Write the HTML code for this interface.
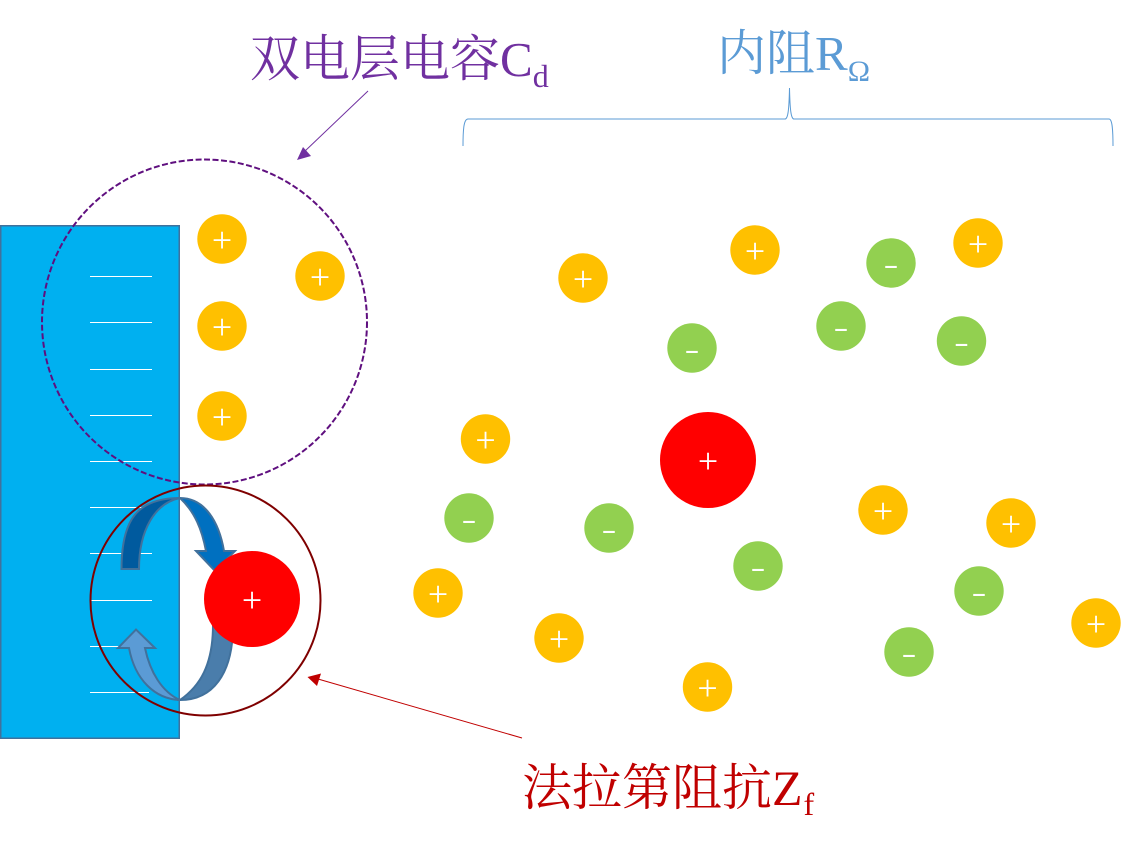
<!DOCTYPE html>
<html><head><meta charset="utf-8"><style>
html,body{margin:0;padding:0;background:#fff}
svg{display:block}
.t{font-family:"Liberation Serif","Noto Serif CJK SC",serif;font-size:50px}
.s{font-size:32px}
.p{font-family:"Liberation Serif",serif;font-size:36px;fill:#fff;text-anchor:middle}
.m{font-family:"Liberation Serif",serif;font-size:34px;fill:#fff;text-anchor:middle}
</style></head><body>
<svg width="1132" height="846" viewBox="0 0 1132 846" xmlns="http://www.w3.org/2000/svg">
<rect x="0.750" y="225.750" width="178.500" height="512.500" fill="#00B0F0" stroke="#41719C" stroke-width="1.500"/>
<g stroke="#fff" stroke-width="1">
<line x1="90" x2="152" y1="276.5" y2="276.5"/><line x1="90" x2="152" y1="322.5" y2="322.5"/><line x1="90" x2="152" y1="369.5" y2="369.5"/><line x1="90" x2="152" y1="415.5" y2="415.5"/><line x1="90" x2="152" y1="461.5" y2="461.5"/><line x1="90" x2="152" y1="507.5" y2="507.5"/><line x1="90" x2="152" y1="553.5" y2="553.5"/><line x1="90" x2="152" y1="600.5" y2="600.5"/><line x1="90" x2="152" y1="646.5" y2="646.5"/><line x1="90" x2="149" y1="692.5" y2="692.5"/>
</g>
<!-- arrows -->
<g stroke="#41719C" stroke-width="2" stroke-linejoin="miter">
<path d="M121.500 569 C121.500 520 137 498 180 498 C155 503 139 530 139 569Z" fill="#005A9E"/>
<path d="M180 498 C205 498 219 522 224 551 L235 551 L215 571 L196 551 L206 551 C202 530 195 512 180 498Z" fill="#0070C0"/>
<path d="M180 700 C212 700 233 675 233 625 L213 625 C213 665 200 686 180 700Z" fill="#4A7DAB"/>
<path d="M180 700 C155 699 135 680 129 648 L118 648 L136 629.500 L155 648 L145 648 C150 672 162 692 180 700Z" fill="#5B9BD5"/>
</g>
<circle cx="204.500" cy="322" r="162.500" fill="none" stroke="#5F0F7F" stroke-width="2" stroke-dasharray="6 2.500"/>
<circle cx="205.500" cy="600.500" r="115" fill="none" stroke="#7F0000" stroke-width="2"/>
<!-- big ions -->
<g fill="#FF0000"><circle cx="252" cy="599" r="48"/><circle cx="708" cy="460" r="48"/></g>
<g fill="#FFC000">
<circle cx="222" cy="239" r="24.700"/><circle cx="320" cy="276" r="24.700"/><circle cx="222" cy="326" r="24.700"/><circle cx="222" cy="416" r="24.700"/><circle cx="583" cy="278" r="24.700"/><circle cx="755" cy="250" r="24.700"/><circle cx="978" cy="243" r="24.700"/><circle cx="485.500" cy="439" r="24.700"/><circle cx="883" cy="510" r="24.700"/><circle cx="1011" cy="523" r="24.700"/><circle cx="438" cy="593" r="24.700"/><circle cx="559" cy="638" r="24.700"/><circle cx="707.500" cy="687" r="24.700"/><circle cx="1096" cy="623" r="24.700"/>
</g>
<g fill="#92D050">
<circle cx="891" cy="263" r="24.700"/><circle cx="841" cy="326" r="24.700"/><circle cx="961.500" cy="341" r="24.700"/><circle cx="692" cy="348" r="24.700"/><circle cx="469" cy="518" r="24.700"/><circle cx="609" cy="528" r="24.700"/><circle cx="758" cy="566" r="24.700"/><circle cx="979" cy="591" r="24.700"/><circle cx="909" cy="652" r="24.700"/>
</g>
<g>
<text class="p" x="252" y="612">+</text><text class="p" x="708" y="473">+</text>
<text class="p" x="222" y="252">+</text><text class="p" x="320" y="289">+</text><text class="p" x="222" y="339">+</text><text class="p" x="222" y="429">+</text><text class="p" x="583" y="291">+</text><text class="p" x="755" y="263">+</text><text class="p" x="978" y="256">+</text><text class="p" x="485.500" y="452">+</text><text class="p" x="883" y="523">+</text><text class="p" x="1011" y="536">+</text><text class="p" x="438" y="606">+</text><text class="p" x="559" y="651">+</text><text class="p" x="707.500" y="700">+</text><text class="p" x="1096" y="636">+</text>
<text class="m" transform="translate(891 273.300) scale(1.3 .8)">-</text><text class="m" transform="translate(841 336.300) scale(1.3 .8)">-</text><text class="m" transform="translate(961.500 351.300) scale(1.3 .8)">-</text><text class="m" transform="translate(692 358.300) scale(1.3 .8)">-</text><text class="m" transform="translate(469 528.300) scale(1.3 .8)">-</text><text class="m" transform="translate(609 538.300) scale(1.3 .8)">-</text><text class="m" transform="translate(758 576.300) scale(1.3 .8)">-</text><text class="m" transform="translate(979 601.300) scale(1.3 .8)">-</text><text class="m" transform="translate(909 662.300) scale(1.3 .8)">-</text>
</g>
<!-- connectors -->
<line x1="368" y1="91" x2="304" y2="152" stroke="#7030A0" stroke-width="1"/>
<polygon points="297,160 303,147 311,156" fill="#7030A0"/>
<line x1="522" y1="738" x2="318" y2="679" stroke="#C00000" stroke-width="1"/>
<polygon points="307.500,677 321,673.500 317,686" fill="#C00000"/>
<path d="M463 146 C463 128 464 119 468 119 L785 119 C788 119 789 110 789.500 88 C790 110 791 119 794 119 L1109 119 C1112 119 1113 128 1113 146" fill="none" stroke="#5B9BD5" stroke-width="1"/>
<!-- labels -->
<text class="t" x="250" y="76" fill="#7030A0">双电层电容<tspan style="font-size:49px">C</tspan><tspan class="s" dy="11">d</tspan></text>
<text class="t" x="717" y="70" fill="#5B9BD5" style="font-size:49px">内阻R<tspan style="font-size:30px" dy="11">Ω</tspan></text>
<text class="t" x="522" y="805" fill="#C00000">法拉第阻抗Z<tspan class="s" dy="10" dx="1">f</tspan></text>
</svg>
</body></html>
